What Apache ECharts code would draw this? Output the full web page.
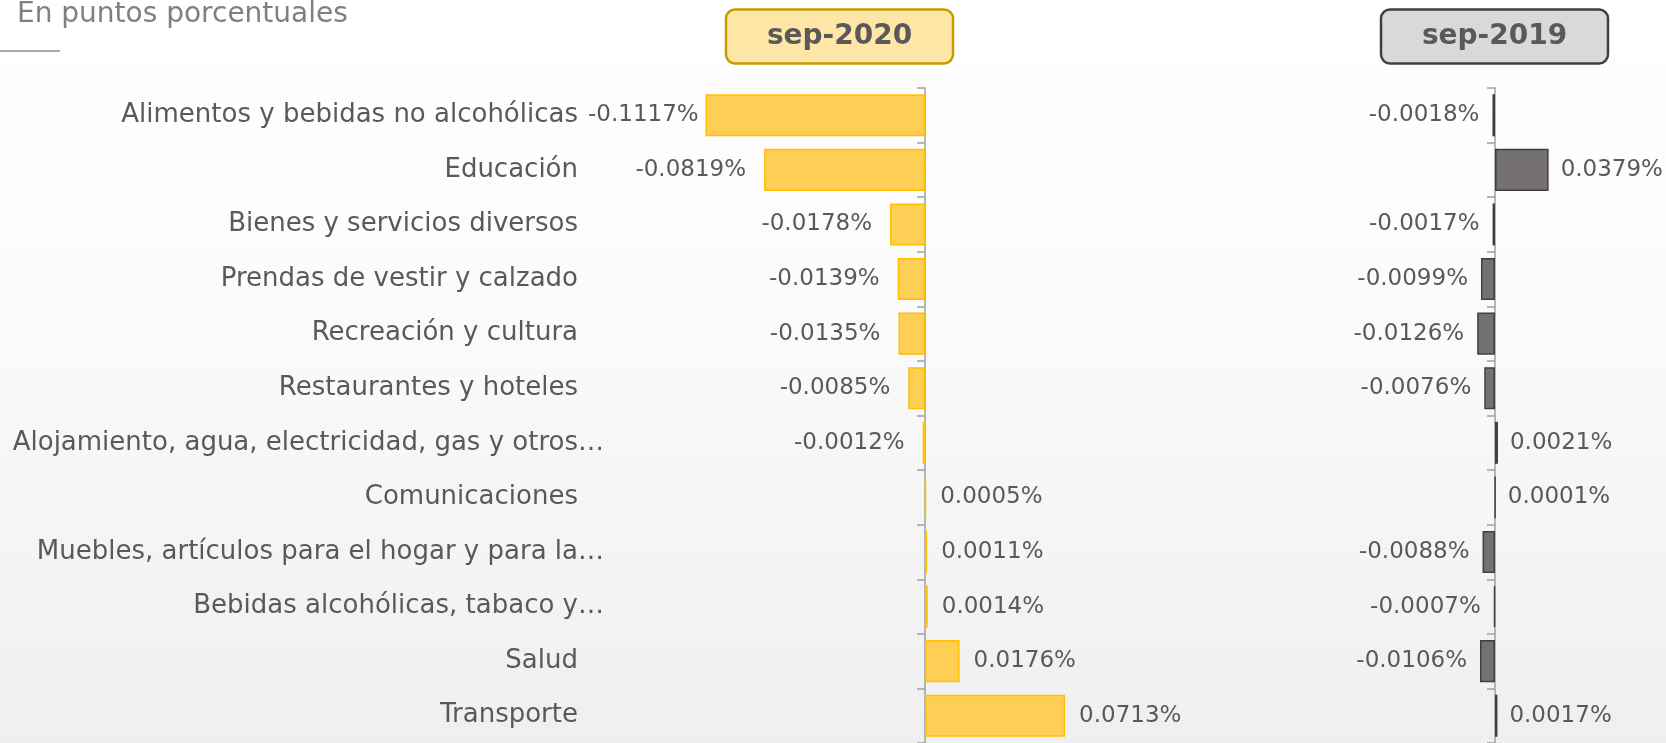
<!DOCTYPE html>
<html>
<head>
<meta charset="utf-8">
<script src="https://cdn.jsdelivr.net/npm/echarts@6/dist/echarts.min.js"></script>
<style>
html,body{margin:0;padding:0;}
body{background:linear-gradient(to bottom,#ffffff 0%,#fbfbfb 40%,#efefef 100%);}
#chart{width:1666px;height:743px;}
</style>
</head>
<body>
<div id="chart"></div>
<script>
const subtitle = 'En puntos porcentuales';
const headers = ['sep-2020', 'sep-2019'];
const categories = [
  'Alimentos y bebidas no alcohólicas',
  'Educación',
  'Bienes y servicios diversos',
  'Prendas de vestir y calzado',
  'Recreación y cultura',
  'Restaurantes y hoteles',
  'Alojamiento, agua, electricidad, gas y otros…',
  'Comunicaciones',
  'Muebles, artículos para el hogar y para la…',
  'Bebidas alcohólicas, tabaco y…',
  'Salud',
  'Transporte'
];
const sep2020 = [-0.1117, -0.0819, -0.0178, -0.0139, -0.0135, -0.0085, -0.0012, 0.0005, 0.0011, 0.0014, 0.0176, 0.0713];
const sep2019 = [-0.0018, 0.0379, -0.0017, -0.0099, -0.0126, -0.0076, 0.0021, 0.0001, -0.0088, -0.0007, -0.0106, 0.0017];

const FONT = '"DejaVu Sans", "Noto Sans", sans-serif';
const TXT = '#595959';
const AXC = '#a0a0a0';
const LBL_SIZE = 23;

// layout
const gTop = 88, bandH = 54.8;
const gridH = bandH * categories.length;
const ax0 = 925, s0 = 1965, min0 = -0.12, max0 = 0.10;
const ax1 = 1495, s1 = 1415, min1 = -0.06, max1 = 0.12;
const left0 = ax0 + min0 * s0, w0 = (max0 - min0) * s0;
const left1 = ax1 + min1 * s1, w1 = (max1 - min1) * s1;

const fmtVal = v => v.toFixed(4) + '%';
const fmt = p => fmtVal(p.value);

// measure label text so labels stay inside the plot area (like the original)
const mctx = document.createElement('canvas').getContext('2d');
mctx.font = LBL_SIZE + 'px ' + FONT;
function mkData(arr, axX, scale, distNeg, distPos, plotLeft) {
  return arr.map(v => {
    let d = v < 0 ? distNeg : distPos;
    if (v < 0 && plotLeft != null) {
      const barLeft = axX + v * scale;
      const w = mctx.measureText(fmtVal(v)).width;
      d = Math.max(3, Math.min(d, barLeft - w - plotLeft));
    }
    return { value: v, label: { position: v < 0 ? 'left' : 'right', distance: d } };
  });
}

const chart = echarts.init(document.getElementById('chart'), null, { renderer: 'canvas' });
chart.setOption({
  backgroundColor: 'transparent',
  animation: false,
  grid: [
    { left: left0, top: gTop, width: w0, height: gridH },
    { left: left1, top: gTop, width: w1, height: gridH }
  ],
  xAxis: [
    { type: 'value', gridIndex: 0, min: min0, max: max0, show: false },
    { type: 'value', gridIndex: 1, min: min1, max: max1, show: false }
  ],
  yAxis: [
    {
      type: 'category', gridIndex: 0, position: 'left', inverse: true,
      data: categories.map(c => ({ value: c, textStyle: c.endsWith('…') ? {} : { padding: [0, 26, 0, 0] } })),
      axisLine: { show: false, onZero: false }, axisTick: { show: false },
      axisLabel: { margin: left0 - 604, fontSize: 26, color: TXT, fontFamily: FONT }
    },
    {
      type: 'category', gridIndex: 0, position: 'left', inverse: true, data: categories,
      axisLine: { show: true, onZero: true, lineStyle: { color: AXC, width: 1.5 } },
      axisTick: { show: true, length: 8, lineStyle: { color: AXC, width: 1.5 } },
      axisLabel: { show: false }
    },
    {
      type: 'category', gridIndex: 1, position: 'left', inverse: true, data: categories,
      axisLine: { show: true, onZero: true, lineStyle: { color: AXC, width: 1.5 } },
      axisTick: { show: true, length: 8, lineStyle: { color: AXC, width: 1.5 } },
      axisLabel: { show: false }
    }
  ],
  series: [
    {
      type: 'bar', xAxisIndex: 0, yAxisIndex: 1, data: mkData(sep2020, ax0, s0, 18, 14, 588),
      barCategoryGap: '23%',
      itemStyle: { color: '#FFCE55', borderColor: '#FFC000', borderWidth: 1.5 },
      label: { show: true, formatter: fmt, fontSize: LBL_SIZE, color: TXT, fontFamily: FONT }
    },
    {
      type: 'bar', xAxisIndex: 1, yAxisIndex: 2, data: mkData(sep2019, ax1, s1, 13, 12, null),
      barCategoryGap: '23%',
      itemStyle: { color: '#767171', borderColor: '#3f3f3f', borderWidth: 1.5 },
      label: { show: true, formatter: fmt, fontSize: LBL_SIZE, color: TXT, fontFamily: FONT }
    }
  ],
  graphic: [
    { type: 'text', x: 17, y: 15, style: { text: subtitle, font: '28px ' + FONT, fill: '#808080', align: 'left', verticalAlign: 'middle' } },
    { type: 'line', shape: { x1: 0, y1: 51, x2: 60, y2: 51 }, style: { stroke: '#8c8c8c', lineWidth: 1.5 } },
    { type: 'rect', shape: { x: 726, y: 9.5, width: 227, height: 54, r: 9 }, style: { fill: '#FFE6A7', stroke: '#C89B00', lineWidth: 2.5 } },
    { type: 'text', x: 839.5, y: 37, style: { text: headers[0], font: 'bold 28px ' + FONT, fill: TXT, align: 'center', verticalAlign: 'middle' } },
    { type: 'rect', shape: { x: 1381, y: 9.5, width: 227, height: 54, r: 9 }, style: { fill: '#D9D9D9', stroke: '#404040', lineWidth: 2.5 } },
    { type: 'text', x: 1494.5, y: 37, style: { text: headers[1], font: 'bold 28px ' + FONT, fill: TXT, align: 'center', verticalAlign: 'middle' } }
  ]
});
</script>
</body>
</html>
